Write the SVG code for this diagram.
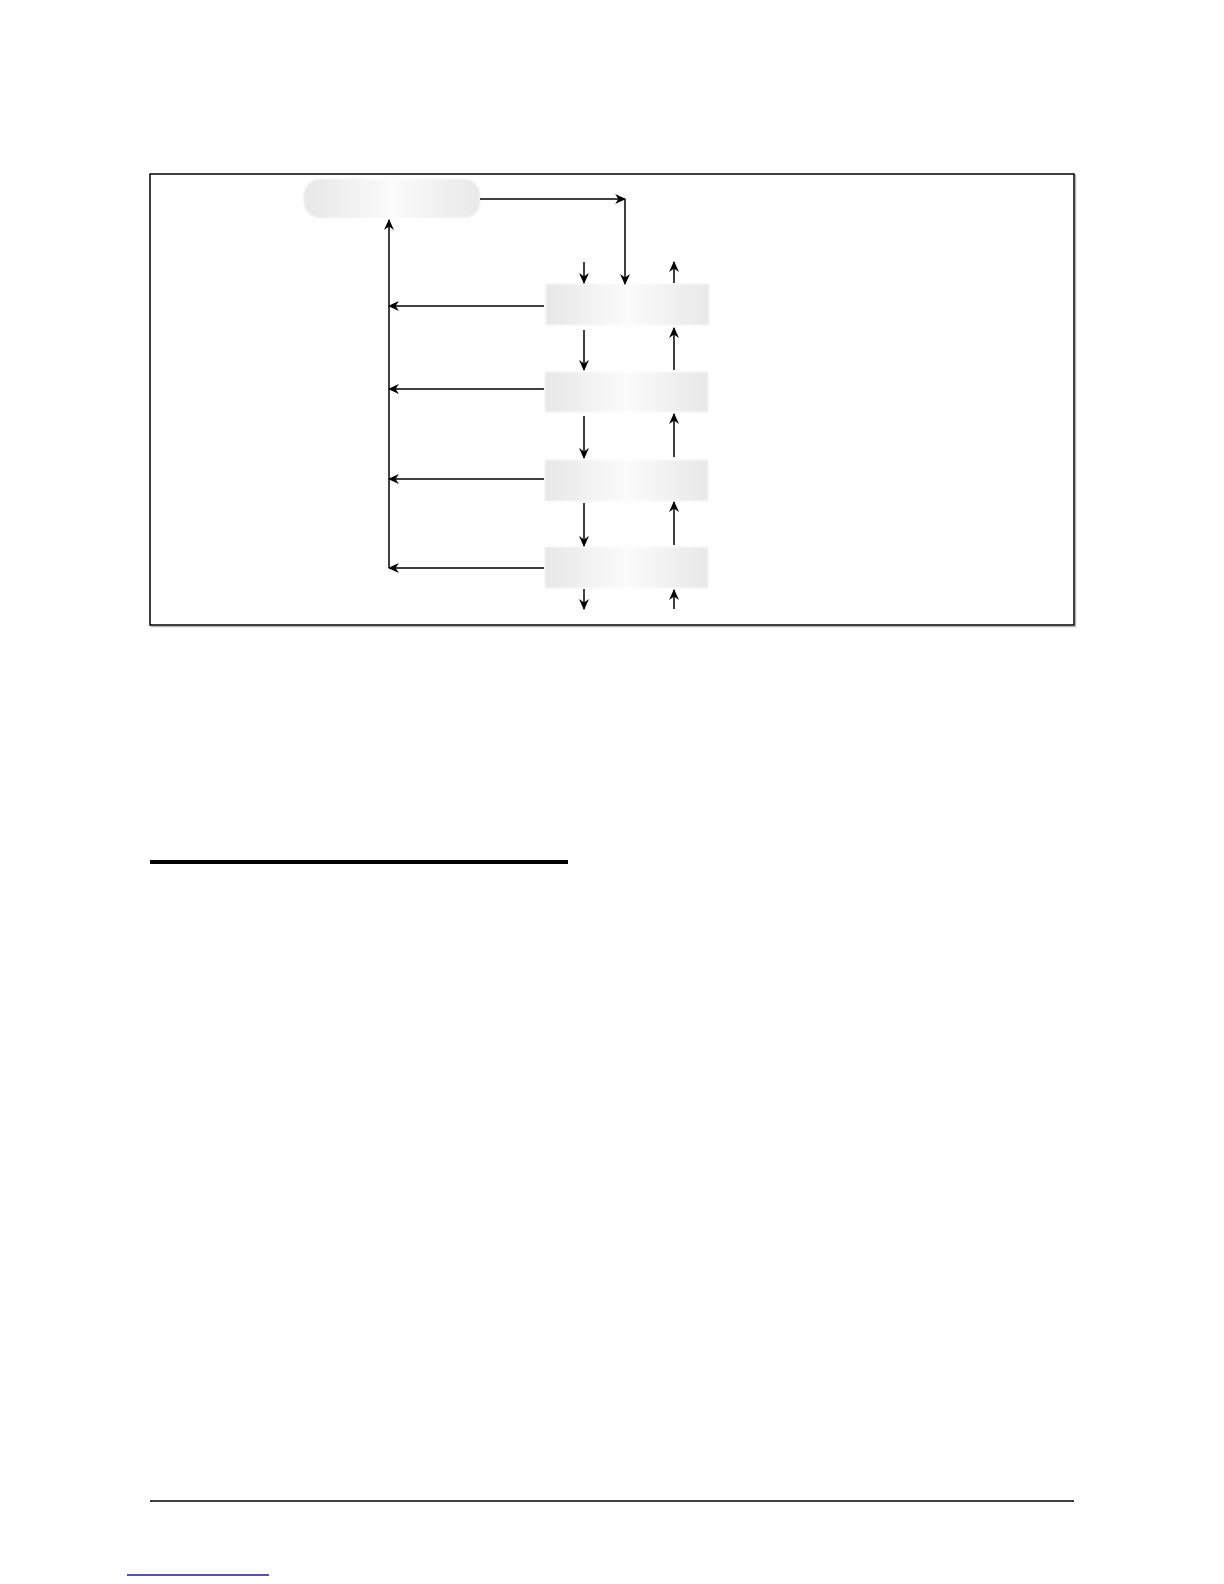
<svg xmlns="http://www.w3.org/2000/svg" width="1224" height="1584" viewBox="0 0 1224 1584">
<style>
.ln{stroke:#000;stroke-width:1.5;fill:none}
.box{fill:url(#g);filter:url(#soft)}
</style>
<defs>
<linearGradient id="g" x1="0" y1="0" x2="1" y2="0">
<stop offset="0" stop-color="#e7e7e7"/>
<stop offset="0.5" stop-color="#fbfbfb"/>
<stop offset="1" stop-color="#e8e8e8"/>
</linearGradient>
<filter id="soft" x="-5%" y="-10%" width="110%" height="120%">
<feGaussianBlur stdDeviation="0.8"/>
</filter>
<marker id="ah" markerUnits="userSpaceOnUse" markerWidth="11" markerHeight="11" viewBox="0 0 10 10" refX="9" refY="5" orient="auto">
<path d="M0,0.5 L10,5 L0,9.5 L3,5 z" fill="#000"/>
</marker>
</defs>
<rect width="1224" height="1584" fill="#fff"/>
<g id="frame">
<rect x="151.5" y="175.5" width="924" height="451" fill="none" stroke="#bbb" stroke-width="1.5"/>
<rect x="150" y="174" width="924" height="451" fill="#fff" stroke="#000" stroke-width="1.5"/>
</g>
<g id="start"><rect class="box" x="304" y="179" width="176" height="39" rx="16" ry="16"/></g>
<g id="box1"><rect class="box" x="546" y="284" width="163" height="41"/></g>
<g id="box2"><rect class="box" x="545" y="372" width="163" height="40"/></g>
<g id="box3"><rect class="box" x="545" y="460" width="163" height="41"/></g>
<g id="box4"><rect class="box" x="545" y="547" width="163" height="41"/></g>
<g id="connectors" class="ln">
<line class="ln" x1="480" y1="199" x2="625" y2="199" marker-end="url(#ah)"/>
<line class="ln" x1="625" y1="199" x2="625" y2="284" marker-end="url(#ah)"/>
<line class="ln" x1="389" y1="568" x2="389" y2="220" marker-end="url(#ah)"/>
<line class="ln" x1="544" y1="306" x2="389" y2="306" marker-end="url(#ah)"/>
<line class="ln" x1="544" y1="389" x2="389" y2="389" marker-end="url(#ah)"/>
<line class="ln" x1="544" y1="479" x2="389" y2="479" marker-end="url(#ah)"/>
<line class="ln" x1="544" y1="568" x2="389" y2="568" marker-end="url(#ah)"/>
<line class="ln" x1="584" y1="262" x2="584" y2="283" marker-end="url(#ah)"/>
<line class="ln" x1="584" y1="330" x2="584" y2="370" marker-end="url(#ah)"/>
<line class="ln" x1="584" y1="416" x2="584" y2="458" marker-end="url(#ah)"/>
<line class="ln" x1="584" y1="503" x2="584" y2="546" marker-end="url(#ah)"/>
<line class="ln" x1="584" y1="589" x2="584" y2="609" marker-end="url(#ah)"/>
<line class="ln" x1="674" y1="283" x2="674" y2="262" marker-end="url(#ah)"/>
<line class="ln" x1="674" y1="370" x2="674" y2="328" marker-end="url(#ah)"/>
<line class="ln" x1="674" y1="457" x2="674" y2="414" marker-end="url(#ah)"/>
<line class="ln" x1="674" y1="545" x2="674" y2="502" marker-end="url(#ah)"/>
<line class="ln" x1="674" y1="609" x2="674" y2="590" marker-end="url(#ah)"/>
</g>
<g id="rules">
<line x1="150" y1="862" x2="568" y2="862" stroke="#000" stroke-width="4"/>
<line x1="150" y1="1501" x2="1074" y2="1501" stroke="#000" stroke-width="1.5"/>
<line x1="127" y1="1575" x2="269" y2="1575" stroke="#1c1c8c" stroke-width="1.5"/>
</g>
</svg>
